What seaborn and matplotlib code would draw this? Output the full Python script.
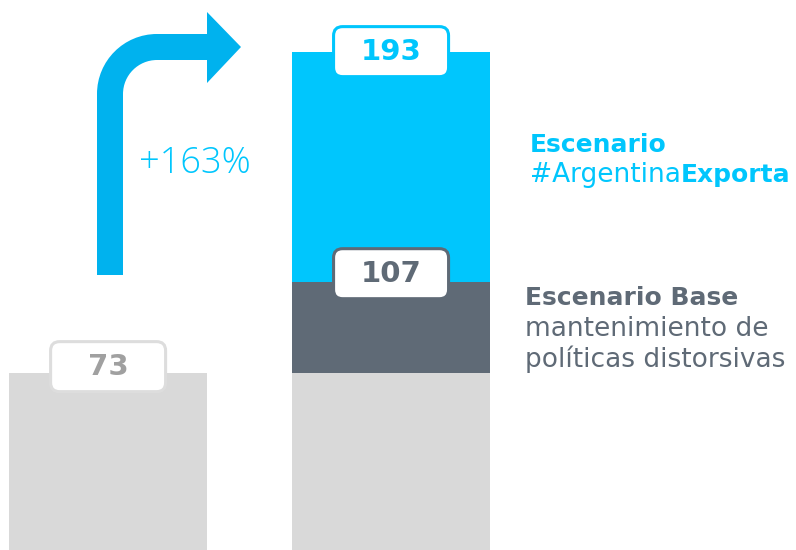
import matplotlib
matplotlib.use("Agg")
import numpy as np
import pandas as pd
import matplotlib.pyplot as plt
import seaborn as sns
from matplotlib.patches import FancyBboxPatch, PathPatch, Polygon
from matplotlib.path import Path
from matplotlib.transforms import ScaledTranslation

# Data
periods = ["Actual", "Proyección"]
current_level = [73, 73]
base_scenario = [np.nan, 107]
export_scenario = [np.nan, 193]
growth_label = "+163%"

CYAN = "#00C6FD"
ARROW = "#00B2EE"
SLATE = "#5F6A76"
LIGHT = "#D9D9D9"
LABEL_GRAY = "#A0A0A0"

sns.set_theme(style="white")
plt.rcParams["font.family"] = ["DejaVu Sans"]

W, H = 796, 550
fig = plt.figure(figsize=(W / 100, H / 100), dpi=100)
ax = fig.add_axes([0, 0, 1, 1])

df = pd.DataFrame({
    "period": periods,
    "current": current_level,
    "base": base_scenario,
    "export": export_scenario,
})

# stacked look: tallest layer first, then smaller ones painted over it
for col, color in [("export", CYAN), ("base", SLATE), ("current", LIGHT)]:
    sns.barplot(data=df, x="period", y=col, order=periods, color=color,
                saturation=1, width=0.7, linewidth=0, ax=ax)

# baseline sits below the picture edge in the reference
ax.set_xlim(-0.382, 2.431)
ax.set_ylim(6.7, 212.3)
ax.axis("off")


def value_tag(x, y, text, color, edge, lift=0.06):
    trans = fig.dpi_scale_trans + ScaledTranslation(x, y, ax.transData)
    box = FancyBboxPatch((-0.575, lift - 0.25), 1.15, 0.5,
                         boxstyle="round,pad=0,rounding_size=0.09",
                         fc="white", ec=edge, lw=2.2, transform=trans, zorder=5)
    ax.add_patch(box)
    ax.text(0, lift, text, transform=trans, ha="center", va="center",
            fontsize=21, fontweight="bold", color=color, zorder=6)


value_tag(0, current_level[0], str(current_level[0]), LABEL_GRAY, "#DDDDDD")
value_tag(1, base_scenario[1], str(base_scenario[1]), SLATE, SLATE, lift=0.08)
value_tag(1, export_scenario[1], str(export_scenario[1]), CYAN, CYAN, lift=0.0)


def px(x, y):
    return (x / W, 1 - y / H)


# curved growth arrow (decoration, in pixel space)
k = 0.5523 * 47
verts = [(110, 275), (110, 94), (110, 94 - k), (157 - k, 47), (157, 47), (210, 47)]
codes = [Path.MOVETO, Path.LINETO, Path.CURVE4, Path.CURVE4, Path.CURVE4, Path.LINETO]
shaft = Path([px(*v) for v in verts], codes)
fig.patches.append(PathPatch(shaft, fc="none", ec=ARROW, lw=26 * 0.72,
                             capstyle="butt", joinstyle="miter",
                             transform=fig.transFigure))
head = Polygon([px(207, 12), px(241, 47), px(207, 83)], closed=True,
               fc=ARROW, ec="none", transform=fig.transFigure)
fig.patches.append(head)

fig.text(*px(139, 173), growth_label, fontsize=26, fontweight="light",
         family=["Open Sans", "DejaVu Sans"], color=CYAN, ha="left", va="baseline")

# legend-like labels on the right
fig.text(*px(530, 152), "Escenario", fontsize=18, fontweight="bold",
         color=CYAN, ha="left", va="baseline")
t1 = fig.text(*px(530, 182), "#Argentina", fontsize=19, color=CYAN,
              ha="left", va="baseline")
fig.canvas.draw()
bb = t1.get_window_extent()
fig.text(bb.x1 / W, 1 - 182 / H, "Exporta", fontsize=18, fontweight="bold",
         color=CYAN, ha="left", va="baseline")

fig.text(*px(525, 305), "Escenario Base", fontsize=18, fontweight="bold",
         color=SLATE, ha="left", va="baseline")
fig.text(*px(525, 336), "mantenimiento de", fontsize=19,
         color=SLATE, ha="left", va="baseline")
fig.text(*px(525, 367), "políticas distorsivas", fontsize=19,
         color=SLATE, ha="left", va="baseline")

fig.savefig("out.png", dpi=100, facecolor="white")
